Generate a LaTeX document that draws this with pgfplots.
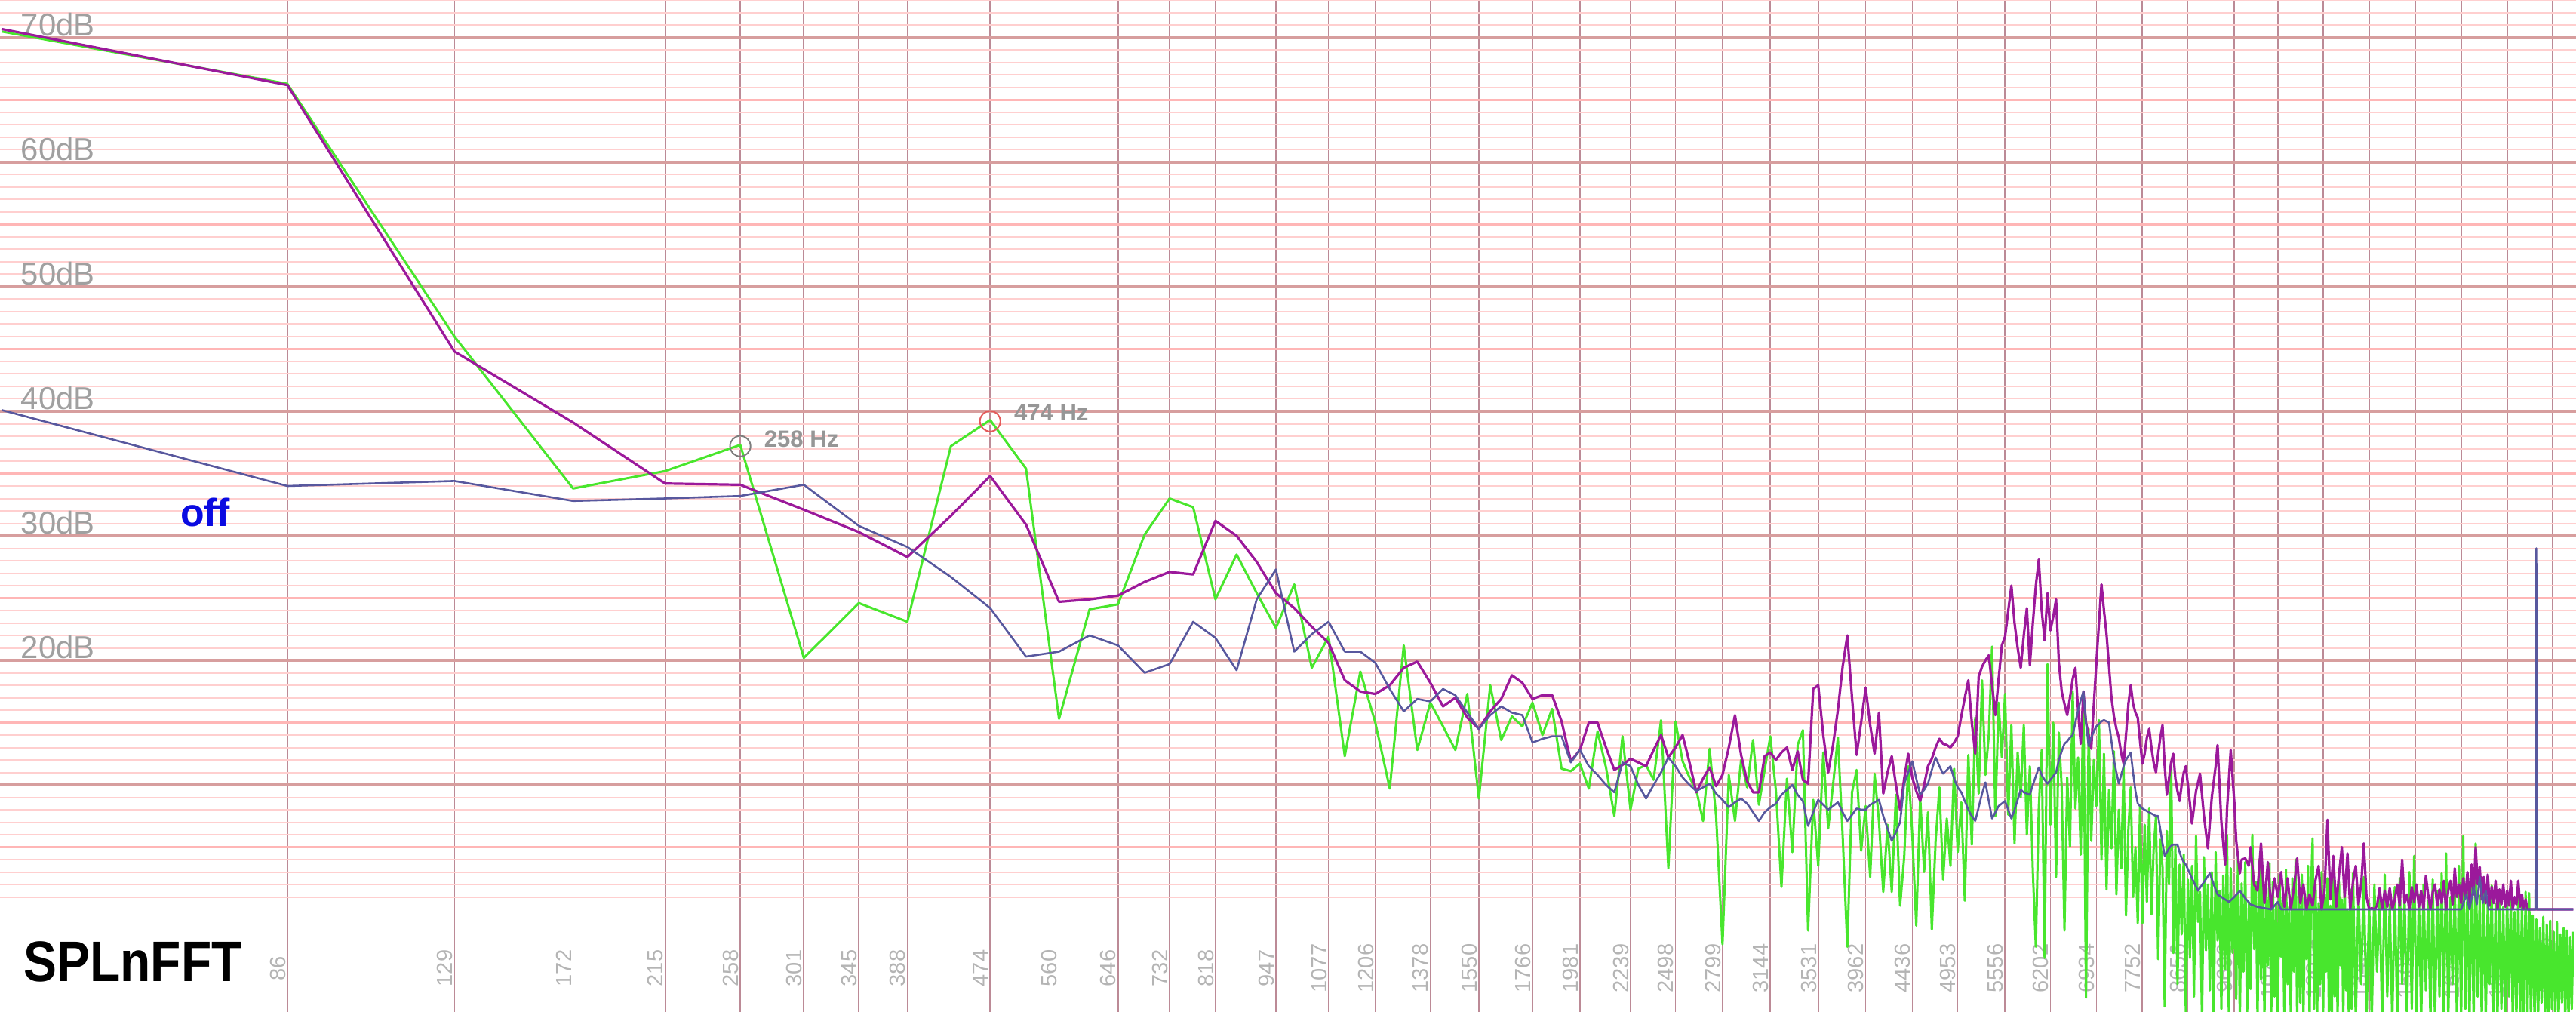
\documentclass[border=0pt]{standalone}
\usepackage{pgfplots}
\pgfplotsset{compat=1.18}
\usepackage{pgfplotstable}
\usepackage{graphicx}
\usepackage{fontspec}
\setmainfont{Liberation Sans}

\definecolor{vgrid}{RGB}{188,138,150}
\definecolor{minorgrid}{RGB}{255,207,207}
\definecolor{fivegrid}{RGB}{255,182,182}
\definecolor{tengrid}{RGB}{215,158,158}
\definecolor{fftgreen}{RGB}{72,230,45}
\definecolor{fftpurple}{RGB}{155,25,155}
\definecolor{fftslate}{RGB}{88,88,158}
\definecolor{dblabel}{RGB}{160,160,160}
\definecolor{hzlabel}{RGB}{180,180,180}
\definecolor{peaklabel}{RGB}{150,150,150}
\definecolor{offblue}{RGB}{10,10,225}

% bin number (43.066 Hz per bin), level in dB
\pgfplotstableread[row sep=\\]{
k db \\
1 70.5 \\ 2 66.3 \\ 3 46.0 \\ 4 33.8 \\ 5 35.2 \\ 6 37.3 \\ 7 20.2 \\ 8 24.6 \\ 9 23.1 \\ 10 37.2 \\
11 39.3 \\ 12 35.4 \\ 13 15.3 \\ 14 24.1 \\ 15 24.5 \\ 16 30.1 \\ 17 33.0 \\ 18 32.3 \\ 19 24.9 \\ 20 28.5 \\
21 25.4 \\ 22 22.6 \\ 23 26.1 \\ 24 19.4 \\ 25 21.9 \\ 26 12.3 \\ 27 19.1 \\ 28 15.0 \\ 29 9.7 \\ 30 21.2 \\
31 12.8 \\ 32 16.6 \\ 33 14.7 \\ 34 12.8 \\ 35 17.3 \\ 36 8.9 \\ 37 18.0 \\ 38 13.6 \\ 39 15.5 \\ 40 14.7 \\
41 16.6 \\ 42 14.0 \\ 43 16.1 \\ 44 11.3 \\ 45 11.1 \\ 46 11.7 \\ 47 9.7 \\ 48 14.3 \\ 49 11.4 \\ 50 7.5 \\
51 13.9 \\ 52 8.0 \\ 53 11.3 \\ 54 11.6 \\ 55 10.4 \\ 56 15.2 \\ 57 3.3 \\ 58 15.1 \\ 59 11.9 \\ 60 10.6 \\
61 9.6 \\ 62 7.1 \\ 63 12.9 \\ 64 7.5 \\ 65 -2.8 \\ 66 10.8 \\ 67 7.1 \\ 68 12.0 \\ 69 9.8 \\ 70 13.6 \\
71 8.4 \\ 72 11.2 \\ 73 13.9 \\ 74 9.5 \\ 75 1.8 \\ 76 10.5 \\ 77 4.6 \\ 78 13.2 \\ 79 14.4 \\ 80 -1.7 \\
81 8.8 \\ 82 3.5 \\ 83 12.6 \\ 84 6.5 \\ 85 10.0 \\ 86 13.8 \\ 87 5.9 \\ 88 -3.0 \\ 89 9.4 \\ 90 11.2 \\
91 4.7 \\ 92 8.3 \\ 93 2.6 \\ 94 10.9 \\ 95 7.1 \\ 96 1.4 \\ 97 6.8 \\ 98 1.4 \\ 99 9.2 \\ 100 0.3 \\
101 4.2 \\ 102 11.5 \\ 103 6.0 \\ 104 -1.3 \\ 105 9.0 \\ 106 3.0 \\ 107 7.8 \\ 108 -1.6 \\ 109 5.5 \\ 110 9.8 \\
111 2.4 \\ 112 7.3 \\ 113 3.5 \\ 114 11.3 \\ 115 4.6 \\ 116 8.6 \\ 117 0.7 \\ 118 12.4 \\ 119 5.2 \\ 120 15.4 \\
121 9.3 \\ 122 18.4 \\ 123 10.8 \\ 124 14.0 \\ 125 21.1 \\ 126 7.5 \\ 127 16.6 \\ 128 12.2 \\ 129 17.3 \\ 130 7.6 \\
131 14.8 \\ 132 5.3 \\ 133 12.6 \\ 134 9.0 \\ 135 14.8 \\ 136 6.0 \\ 137 11.5 \\ 138 3.0 \\ 139 -3.0 \\ 140 8.2 \\
141 12.8 \\ 142 -3.9 \\ 143 19.7 \\ 144 6.8 \\ 145 15.0 \\ 146 2.6 \\ 147 14.2 \\ 148 9.8 \\ 149 -1.7 \\ 150 10.6 \\
151 5.0 \\ 152 17.5 \\ 153 8.1 \\ 154 12.2 \\ 155 4.4 \\ 156 17.3 \\ 157 -7.1 \\ 158 14.5 \\ 159 5.5 \\ 160 12.0 \\
161 8.3 \\ 162 15.2 \\ 163 4.0 \\ 164 12.5 \\ 165 1.6 \\ 166 9.6 \\ 167 4.9 \\ 168 12.7 \\ 169 1.2 \\ 170 8.0 \\
171 3.3 \\ 172 11.5 \\ 173 -0.5 \\ 174 6.5 \\ 175 9.8 \\ 176 1.0 \\ 177 5.0 \\ 178 -1.1 \\ 179 8.3 \\ 180 -1.1 \\
181 6.8 \\ 182 0.6 \\ 183 8.1 \\ 184 -0.4 \\ 185 4.8 \\ 186 7.4 \\ 187 -4.0 \\ 188 5.6 \\ 189 3.4 \\ 190 -7.8 \\
191 6.3 \\ 192 2.0 \\ 193 11.8 \\ 194 -3.5 \\ 195 5.1 \\ 196 -6.0 \\ 197 3.6 \\ 198 -2.0 \\ 199 4.4 \\ 200 -8.5 \\
201 2.4 \\ 202 -3.9 \\ 203 3.5 \\ 204 -7.0 \\ 205 5.9 \\ 206 -1.0 \\ 207 1.4 \\ 208 -9.0 \\ 209 4.2 \\ 210 -3.3 \\
211 2.0 \\ 212 -6.5 \\ 213 3.0 \\ 214 -9.0 \\ 215 4.6 \\ 216 -2.5 \\ 217 1.5 \\ 218 -8.0 \\ 219 2.7 \\ 220 -4.8 \\
221 6.0 \\ 222 -9.0 \\ 223 3.3 \\ 224 -3.5 \\ 225 1.0 \\ 226 -7.2 \\ 227 4.5 \\ 228 -9.0 \\ 229 2.1 \\ 230 -5.0 \\
231 3.8 \\ 232 -9.0 \\ 233 0.6 \\ 234 -6.4 \\ 235 6.0 \\ 236 -3.2 \\ 237 2.2 \\ 238 -9.0 \\ 239 4.0 \\ 240 -5.6 \\
241 3.0 \\ 242 -9 \\ 243 1.5 \\ 244 -4.5 \\ 245 3.7 \\ 246 -9 \\ 247 2.2 \\ 248 -7 \\ 249 0.5 \\ 250 -9 \\
251 2.8 \\ 252 -3.8 \\ 253 1.0 \\ 254 -9 \\ 255 3.2 \\ 256 -6 \\ 257 0.2 \\ 258 -9 \\ 259 2.5 \\ 260 -5 \\
261 4.0 \\ 262 -9 \\ 263 1.2 \\ 264 -7.5 \\ 265 2.8 \\ 266 -9 \\ 267 0.8 \\ 268 -4 \\ 269 3.5 \\ 270 -9 \\
271 1.8 \\ 272 5.7 \\ 273 -8 \\ 274 2.0 \\ 275 -9 \\ 276 0.5 \\ 277 -6 \\ 278 3.0 \\ 279 -9 \\ 280 1.2 \\
281 -5 \\ 282 2.5 \\ 283 -9 \\ 284 0.3 \\ 285 -9 \\ 286 3.8 \\ 287 -7 \\ 288 1.0 \\ 289 -9 \\ 290 2.2 \\
291 -4.5 \\ 292 0.8 \\ 293 -9 \\ 294 2.6 \\ 295 -6.5 \\ 296 0.0 \\ 297 -9 \\ 298 1.6 \\ 299 -8 \\ 300 2.9 \\
302 -9 \\ 304 1.4 \\ 306 -6 \\ 308 2.6 \\ 310 -9 \\ 312 0.5 \\ 314 -9 \\ 316 2.0 \\ 318 -5 \\ 320 1.0 \\
322 -9 \\ 324 2.8 \\ 326 -7 \\ 328 0.4 \\ 330 -9 \\ 332 1.8 \\ 334 -9 \\ 336 2.5 \\ 338 -6 \\ 340 0.9 \\
342 -9 \\ 344 3.0 \\ 346 -8 \\ 348 4.3 \\ 350 -9 \\ 352 1.2 \\ 354 -9 \\ 356 2.0 \\ 358 -6.5 \\ 360 0.7 \\
362 -9 \\ 364 2.4 \\ 366 -9 \\ 368 1.5 \\ 370 -7 \\ 372 2.9 \\ 374 -9 \\ 376 4.5 \\ 378 -9 \\ 380 1.0 \\
382 -6 \\ 384 2.2 \\ 386 -9 \\ 388 3.5 \\ 390 -9 \\ 392 5.9 \\ 394 -8 \\ 396 1.8 \\ 398 -9 \\ 400 2.7 \\
402 -9 \\ 404 5.3 \\ 406 -7 \\ 408 1.1 \\ 410 -9 \\ 412 2.0 \\ 414 -9 \\ 416 0.6 \\ 418 -6 \\ 420 1.9 \\
422 -9 \\ 424 0.4 \\ 426 -9 \\ 428 1.6 \\ 430 -8 \\ 432 0.2 \\ 434 -9 \\ 436 1.2 \\ 438 -7 \\ 440 0.8 \\
442 -9 \\ 444 -0.2 \\ 446 -9 \\ 448 1.0 \\ 450 -8.5 \\ 452 0.4 \\ 454 -9 \\ 456 1.4 \\ 458 -9 \\ 460 1.3 \\
462 -9 \\ 464 -0.5 \\ 466 -9 \\ 468 -0.8 \\ 470 -9 \\ 472 -1.5 \\ 474 -7.5 \\ 476 -0.6 \\ 478 -9 \\ 480 -1.2 \\
482 -9 \\ 484 -0.9 \\ 486 -8 \\ 488 -1.8 \\ 490 -9 \\ 492 -1.0 \\ 494 -9 \\ 496 -2.0 \\ 498 -7.5 \\ 500 -1.5 \\
502 -9 \\ 504 -1.7 \\ 506 -9 \\ 508 -2.2 \\ 510 -8 \\ 512 -1.8 \\
}\greentab

\pgfplotstableread[row sep=\\]{
k db \\
1 70.7 \\ 2 66.2 \\ 3 44.8 \\ 4 39.1 \\ 5 34.2 \\ 6 34.1 \\ 7 32.1 \\ 8 30.3 \\ 9 28.3 \\ 10 31.6 \\
11 34.8 \\ 12 30.9 \\ 13 24.7 \\ 14 24.9 \\ 15 25.2 \\ 16 26.3 \\ 17 27.1 \\ 18 26.9 \\ 19 31.2 \\ 20 30.0 \\
21 27.9 \\ 22 25.4 \\ 23 24.2 \\ 24 22.7 \\ 25 21.4 \\ 26 18.4 \\ 27 17.5 \\ 28 17.3 \\ 29 18.0 \\ 30 19.4 \\
31 19.9 \\ 32 18.2 \\ 33 16.3 \\ 34 17.0 \\ 35 15.4 \\ 36 14.5 \\ 37 15.9 \\ 38 16.9 \\ 39 18.8 \\ 40 18.2 \\
41 16.9 \\ 42 17.2 \\ 43 17.2 \\ 44 15.1 \\ 45 11.9 \\ 46 12.8 \\ 47 15.0 \\ 48 15.0 \\ 49 13.0 \\ 50 11.2 \\
51 11.6 \\ 52 12.1 \\ 53 11.8 \\ 54 11.5 \\ 55 12.8 \\ 56 14.0 \\ 57 12.2 \\ 58 13.0 \\ 59 14.0 \\ 60 11.8 \\
61 9.4 \\ 62 10.5 \\ 63 11.4 \\ 64 9.9 \\ 65 10.8 \\ 66 13.0 \\ 67 15.6 \\ 68 12.4 \\ 69 10.3 \\ 70 9.4 \\
71 9.4 \\ 72 12.3 \\ 73 12.6 \\ 74 12.0 \\ 75 12.6 \\ 76 13.0 \\ 77 11.2 \\ 78 12.7 \\ 79 10.4 \\ 80 10.1 \\
81 17.7 \\ 82 18.0 \\ 83 14.0 \\ 84 11.0 \\ 85 13.2 \\ 86 16.0 \\ 87 19.5 \\ 88 22.0 \\ 89 17.0 \\ 90 12.4 \\
91 15.0 \\ 92 17.8 \\ 93 14.8 \\ 94 12.5 \\ 95 15.8 \\ 96 9.3 \\ 97 11.0 \\ 98 12.3 \\ 99 10.0 \\ 100 8.0 \\
101 10.5 \\ 102 12.5 \\ 103 10.6 \\ 104 9.5 \\ 105 8.7 \\ 106 10.0 \\ 107 11.5 \\ 108 12.1 \\ 109 13.0 \\ 110 13.7 \\
111 13.3 \\ 112 13.2 \\ 113 13.0 \\ 114 13.4 \\ 115 13.9 \\ 116 15.5 \\ 117 17.0 \\ 118 18.4 \\ 119 15.0 \\ 120 12.5 \\
121 18.7 \\ 122 19.5 \\ 123 20.0 \\ 124 20.4 \\ 125 18.0 \\ 126 15.6 \\ 127 18.5 \\ 128 21.2 \\ 129 21.9 \\ 130 24.0 \\
131 26.0 \\ 132 23.0 \\ 133 21.0 \\ 134 19.4 \\ 135 22.0 \\ 136 24.2 \\ 137 19.6 \\ 138 23.0 \\ 139 26.0 \\ 140 28.1 \\
141 24.0 \\ 142 21.6 \\ 143 25.4 \\ 144 22.4 \\ 145 23.5 \\ 146 24.9 \\ 147 19.8 \\ 148 17.5 \\ 149 16.5 \\ 150 15.6 \\
151 17.0 \\ 152 18.5 \\ 153 19.4 \\ 154 16.0 \\ 155 13.3 \\ 156 17.5 \\ 157 15.0 \\ 158 14.0 \\ 159 12.9 \\ 160 16.5 \\
161 19.8 \\ 162 23.0 \\ 163 26.1 \\ 164 24.0 \\ 165 22.1 \\ 166 19.5 \\ 167 17.0 \\ 168 15.5 \\ 169 14.5 \\ 170 13.8 \\
171 12.5 \\ 172 11.7 \\ 173 14.0 \\ 174 16.5 \\ 175 18.0 \\ 176 16.5 \\ 177 15.8 \\ 178 15.4 \\ 179 13.5 \\ 180 11.7 \\
181 12.5 \\ 182 13.8 \\ 183 14.5 \\ 184 13.0 \\ 185 11.8 \\ 186 11.0 \\ 187 12.5 \\ 188 13.8 \\ 189 14.8 \\ 190 11.5 \\
191 9.2 \\ 192 10.5 \\ 193 11.8 \\ 194 12.5 \\ 195 10.5 \\ 196 9.5 \\ 197 8.7 \\ 198 10.0 \\ 199 11.0 \\ 200 11.5 \\
202 8.5 \\ 203 6.9 \\ 205 9.5 \\ 207 10.9 \\ 209 7.5 \\ 211 4.9 \\ 213 9.0 \\ 215 11.5 \\ 216 13.2 \\ 218 7.0 \\
220 3.6 \\ 221 8.0 \\ 223 12.8 \\ 225 8.5 \\ 226 5.5 \\ 228 2.9 \\ 229 4.0 \\ 231 4.1 \\ 233 3.5 \\ 234 5.0 \\
236 2.0 \\ 238 1.5 \\ 240 5.3 \\
242 0.5 \\ 244 3.8 \\ 246 0.0 \\ 248 2.5 \\ 250 1.0 \\ 252 3.0 \\ 254 0.2 \\ 256 2.5 \\ 258 0.0 \\ 260 1.8 \\
262 4.1 \\ 264 0.5 \\ 266 2.0 \\ 268 0.0 \\ 270 1.2 \\ 272 0.3 \\ 274 2.4 \\ 276 3.5 \\ 278 0.0 \\ 280 1.5 \\
282 7.2 \\ 284 0.8 \\ 286 4.3 \\ 288 0.2 \\ 290 2.8 \\ 292 5.0 \\ 294 1.0 \\ 296 4.5 \\ 298 0.0 \\ 300 2.2 \\
302 3.5 \\ 304 0.4 \\ 306 2.0 \\ 308 5.3 \\ 310 1.0 \\ 312 0.0 \\ 314 0.1 \\ 316 0.0 \\ 318 0.3 \\ 320 1.7 \\
322 0.0 \\ 324 1.5 \\ 326 0.2 \\ 328 1.7 \\ 330 0.0 \\ 332 0.8 \\ 334 2.0 \\ 336 0.3 \\ 338 4.0 \\ 340 0.5 \\
342 1.2 \\ 344 0.0 \\ 346 1.8 \\ 348 0.6 \\ 350 2.0 \\ 352 0.2 \\ 354 1.5 \\ 356 0.0 \\ 358 2.7 \\ 360 1.2 \\
362 0.0 \\ 364 1.4 \\ 366 2.0 \\ 368 0.3 \\ 370 1.6 \\ 372 0.5 \\ 374 2.3 \\ 376 0.0 \\ 378 1.5 \\ 380 2.3 \\
382 0.4 \\ 384 3.3 \\ 386 1.0 \\ 388 2.0 \\ 390 0.5 \\ 392 2.5 \\ 394 1.0 \\ 396 3.0 \\ 398 0.6 \\ 400 3.6 \\
402 1.2 \\ 404 5.0 \\ 406 2.0 \\ 408 3.4 \\ 410 0.8 \\ 412 2.6 \\ 414 0.5 \\ 416 2.8 \\ 418 0.3 \\ 420 1.8 \\
422 0.5 \\ 424 2.3 \\ 426 0.0 \\ 428 1.6 \\ 430 0.4 \\ 432 2.0 \\ 434 0.2 \\ 436 1.5 \\ 438 0.3 \\ 440 2.3 \\
442 0.0 \\ 444 1.0 \\ 446 0.4 \\ 448 2.3 \\ 450 0.2 \\ 452 1.2 \\ 454 0.0 \\ 456 0.8 \\ 458 0.0 \\ 512 0.0 \\
}\purpletab

\pgfplotstableread[row sep=\\]{
k db \\
1 40.1 \\ 2 34.0 \\ 3 34.4 \\ 4 32.8 \\ 5 33.0 \\ 6 33.2 \\ 7 34.1 \\ 8 30.8 \\ 9 29.1 \\ 10 26.7 \\
11 24.2 \\ 12 20.3 \\ 13 20.7 \\ 14 22.0 \\ 15 21.2 \\ 16 19.0 \\ 17 19.7 \\ 18 23.1 \\ 19 21.8 \\ 20 19.2 \\
21 24.9 \\ 22 27.3 \\ 23 20.7 \\ 24 22.1 \\ 25 23.1 \\ 26 20.7 \\ 27 20.7 \\ 28 19.8 \\ 29 17.7 \\ 30 15.9 \\
31 16.9 \\ 32 16.7 \\ 33 17.7 \\ 34 17.2 \\ 35 15.8 \\ 36 14.5 \\ 37 15.6 \\ 38 16.3 \\ 39 15.8 \\ 40 15.6 \\
41 13.4 \\ 42 13.7 \\ 43 13.9 \\ 44 13.9 \\ 45 11.8 \\ 46 12.8 \\ 47 11.5 \\ 48 10.8 \\ 49 10.0 \\ 50 9.4 \\
51 11.8 \\ 52 11.5 \\ 53 10.0 \\ 54 8.9 \\ 55 10.0 \\ 56 11.0 \\ 57 12.2 \\ 58 11.5 \\ 59 10.6 \\ 60 10.0 \\
61 9.5 \\ 62 9.8 \\ 63 10.1 \\ 64 9.3 \\ 65 8.8 \\ 66 8.2 \\ 67 8.6 \\ 68 8.9 \\ 69 8.5 \\ 70 7.8 \\
71 7.1 \\ 72 7.8 \\ 73 8.2 \\ 74 8.5 \\ 75 9.2 \\ 76 9.6 \\ 77 10.0 \\ 78 9.2 \\ 79 8.7 \\ 80 6.7 \\
81 7.8 \\ 82 8.8 \\ 83 8.4 \\ 84 8.0 \\ 85 8.3 \\ 86 8.6 \\ 87 7.8 \\ 88 7.1 \\ 89 7.6 \\ 90 8.1 \\
91 8.0 \\ 92 8.0 \\ 93 8.4 \\ 94 8.6 \\ 95 8.8 \\ 96 7.5 \\ 97 6.5 \\ 98 5.5 \\ 99 6.2 \\ 100 7.0 \\
101 10.1 \\ 102 11.0 \\ 103 11.9 \\ 104 10.5 \\ 105 9.2 \\ 106 9.6 \\ 107 10.1 \\ 108 11.2 \\ 109 12.2 \\ 110 11.5 \\
111 10.9 \\ 112 11.2 \\ 113 11.5 \\ 114 10.5 \\ 115 9.8 \\ 116 9.4 \\ 117 8.7 \\ 118 8.0 \\ 119 7.5 \\ 120 7.1 \\
121 8.2 \\ 122 9.3 \\ 123 10.2 \\ 124 8.7 \\ 125 7.3 \\ 126 7.8 \\ 127 8.3 \\ 128 8.5 \\ 129 8.7 \\ 130 8.0 \\
131 7.3 \\ 132 8.0 \\ 133 8.8 \\ 134 9.6 \\ 135 9.4 \\ 136 9.3 \\ 137 9.2 \\ 138 10.0 \\ 139 10.7 \\ 140 11.4 \\
141 10.8 \\ 142 10.4 \\ 143 10.1 \\ 144 10.4 \\ 145 10.7 \\ 146 11.0 \\ 147 12.0 \\ 148 12.7 \\ 149 13.3 \\ 150 13.5 \\
151 13.8 \\ 152 14.0 \\ 153 15.0 \\ 154 16.0 \\ 155 16.8 \\ 156 17.5 \\ 157 15.0 \\ 158 13.1 \\ 159 13.8 \\ 160 14.3 \\
161 14.7 \\ 162 14.9 \\ 163 15.1 \\ 164 15.2 \\ 165 15.1 \\ 166 15.0 \\ 167 13.5 \\ 168 12.0 \\ 169 11.0 \\ 170 10.1 \\
171 10.8 \\ 172 11.5 \\ 173 12.0 \\ 174 12.3 \\ 175 12.6 \\ 176 11.0 \\ 177 9.5 \\ 178 8.5 \\ 179 8.3 \\ 180 8.1 \\
181 8.0 \\ 182 7.9 \\ 183 7.8 \\ 184 7.7 \\ 185 7.6 \\ 186 7.5 \\ 187 7.5 \\ 188 6.4 \\ 189 5.3 \\ 190 4.3 \\
191 4.6 \\ 192 4.9 \\ 193 5.1 \\ 194 5.2 \\ 195 5.2 \\ 196 5.2 \\ 197 4.6 \\ 198 4.1 \\ 199 3.8 \\ 200 3.6 \\
203 2.5 \\ 206 1.5 \\ 209 2.2 \\ 212 2.9 \\ 214 2.0 \\ 216 1.2 \\ 219 0.9 \\ 222 0.6 \\ 225 1.0 \\ 228 1.5 \\
231 0.9 \\ 234 0.4 \\ 238 0.2 \\ 242 0.1 \\ 246 0.0 \\ 250 0.6 \\ 252 0.0 \\ 390 0.0 \\ 395 1.2 \\ 398 0.0 \\
402 1.8 \\ 405 0.4 \\ 408 2.6 \\ 411 0.5 \\ 414 1.5 \\ 417 0.0 \\ 467 0.0 \\ 468 29.0 \\ 469 0.0 \\ 512 0.0 \\
}\slatetab

% both axes share the same frame
\pgfplotsset{
  every axis/.append style={
    width=853.5bp, height=335.25bp, scale only axis,
    xmin=42.9, xmax=22194,
    ymin=-8.24, ymax=73.03,
    axis line style={draw=none},
    tick style={draw=none},
  },
}

\begin{document}
\begin{tikzpicture}
% grid of the analyser: frequency lines, 1 dB lines and the labels
\begin{semilogxaxis}[
  xtick={86.13,129.20,172.26,215.33,258.40,301.46,344.53,387.59,473.73,559.86,
    645.99,732.12,818.25,947.45,1076.65,1205.85,1378.11,1550.38,1765.71,1981.04,
    2239.43,2497.83,2799.29,3143.82,3531.41,3962.07,4435.80,4952.59,5555.51,6201.50,
    6933.63,7751.88,8656.27,9689.85,10766.5,12015.4,13436.6,15030.0,16795.7,18776.8,20973.1},
  xticklabels={86,129,172,215,258,301,345,388,474,560,646,732,818,947,1077,1206,1378,
    1550,1766,1981,2239,2498,2799,3144,3531,3962,4436,4953,5556,6202,6934,7752,
    8656,9690,10767,12016,13437,15030,16796,18777,20973},
  xmajorgrids,
  major grid style={draw=vgrid, line width=0.42bp},
  xticklabel style={font=\fontsize{7.3}{8}\selectfont, text=hzlabel, inner sep=0.4bp,
    yshift=14.5bp, rotate=90, anchor=south},
  ytick={10,20,...,70},
  yticklabels={{},20dB,30dB,40dB,50dB,60dB,70dB},
  yticklabel style={font=\fontsize{10.5}{11}\selectfont, text=dblabel, inner sep=0pt,
    anchor=south west, xshift=6.75bp, yshift=0.3bp},
  minor ytick={1,2,...,73},
  yminorgrids,
  minor grid style={draw=minorgrid, line width=0.5bp},
]
\end{semilogxaxis}
% 5 dB and 10 dB lines, the three spectra and the notes
\begin{semilogxaxis}[
  xtick=\empty,
  ytick={5,15,...,65}, yticklabels={},
  ymajorgrids,
  major grid style={draw=fivegrid, line width=0.9bp},
  extra y ticks={10,20,...,70}, extra y tick labels={},
  extra y tick style={grid=major, major grid style={draw=tengrid, line width=1.1bp}},
]
\addplot[fftgreen, line width=0.75bp, line join=round]
  table[x expr=\thisrowno{0}*43.066, y index=1] {\greentab};
\addplot[fftpurple, line width=0.8bp, line join=round]
  table[x expr=\thisrowno{0}*43.066, y index=1] {\purpletab};
\addplot[fftslate, line width=0.65bp, line join=round]
  table[x expr=\thisrowno{0}*43.066, y index=1] {\slatetab};

\addplot[only marks, mark=o, mark size=3.4bp,
  mark options={draw={rgb,255:red,125;green,125;blue,125}, line width=0.5bp}]
  coordinates {(258.40,37.2)};
\addplot[only marks, mark=o, mark size=3.4bp,
  mark options={draw={rgb,255:red,228;green,90;blue,90}, line width=0.5bp}]
  coordinates {(473.73,39.2)};

\node[anchor=west, inner sep=0pt, text=peaklabel, font=\bfseries\fontsize{7.8}{8}\selectfont]
  at (axis cs:273.5,37.8) {258 Hz};
\node[anchor=west, inner sep=0pt, text=peaklabel, font=\bfseries\fontsize{7.8}{8}\selectfont]
  at (axis cs:501.4,39.9) {474 Hz};
\node[inner sep=0pt, text=offblue, font=\bfseries\fontsize{13}{13}\selectfont]
  at (axis cs:70.6,31.9) {off};
\node[inner sep=0pt, font=\bfseries\fontsize{19}{19}\selectfont]
  at (axis cs:59.2,-4.2) {\scalebox{0.87}[1]{SPLnFFT}};
\end{semilogxaxis}
\pgfresetboundingbox
\useasboundingbox (current axis.south west) rectangle (current axis.north east);
\end{tikzpicture}
\end{document}
